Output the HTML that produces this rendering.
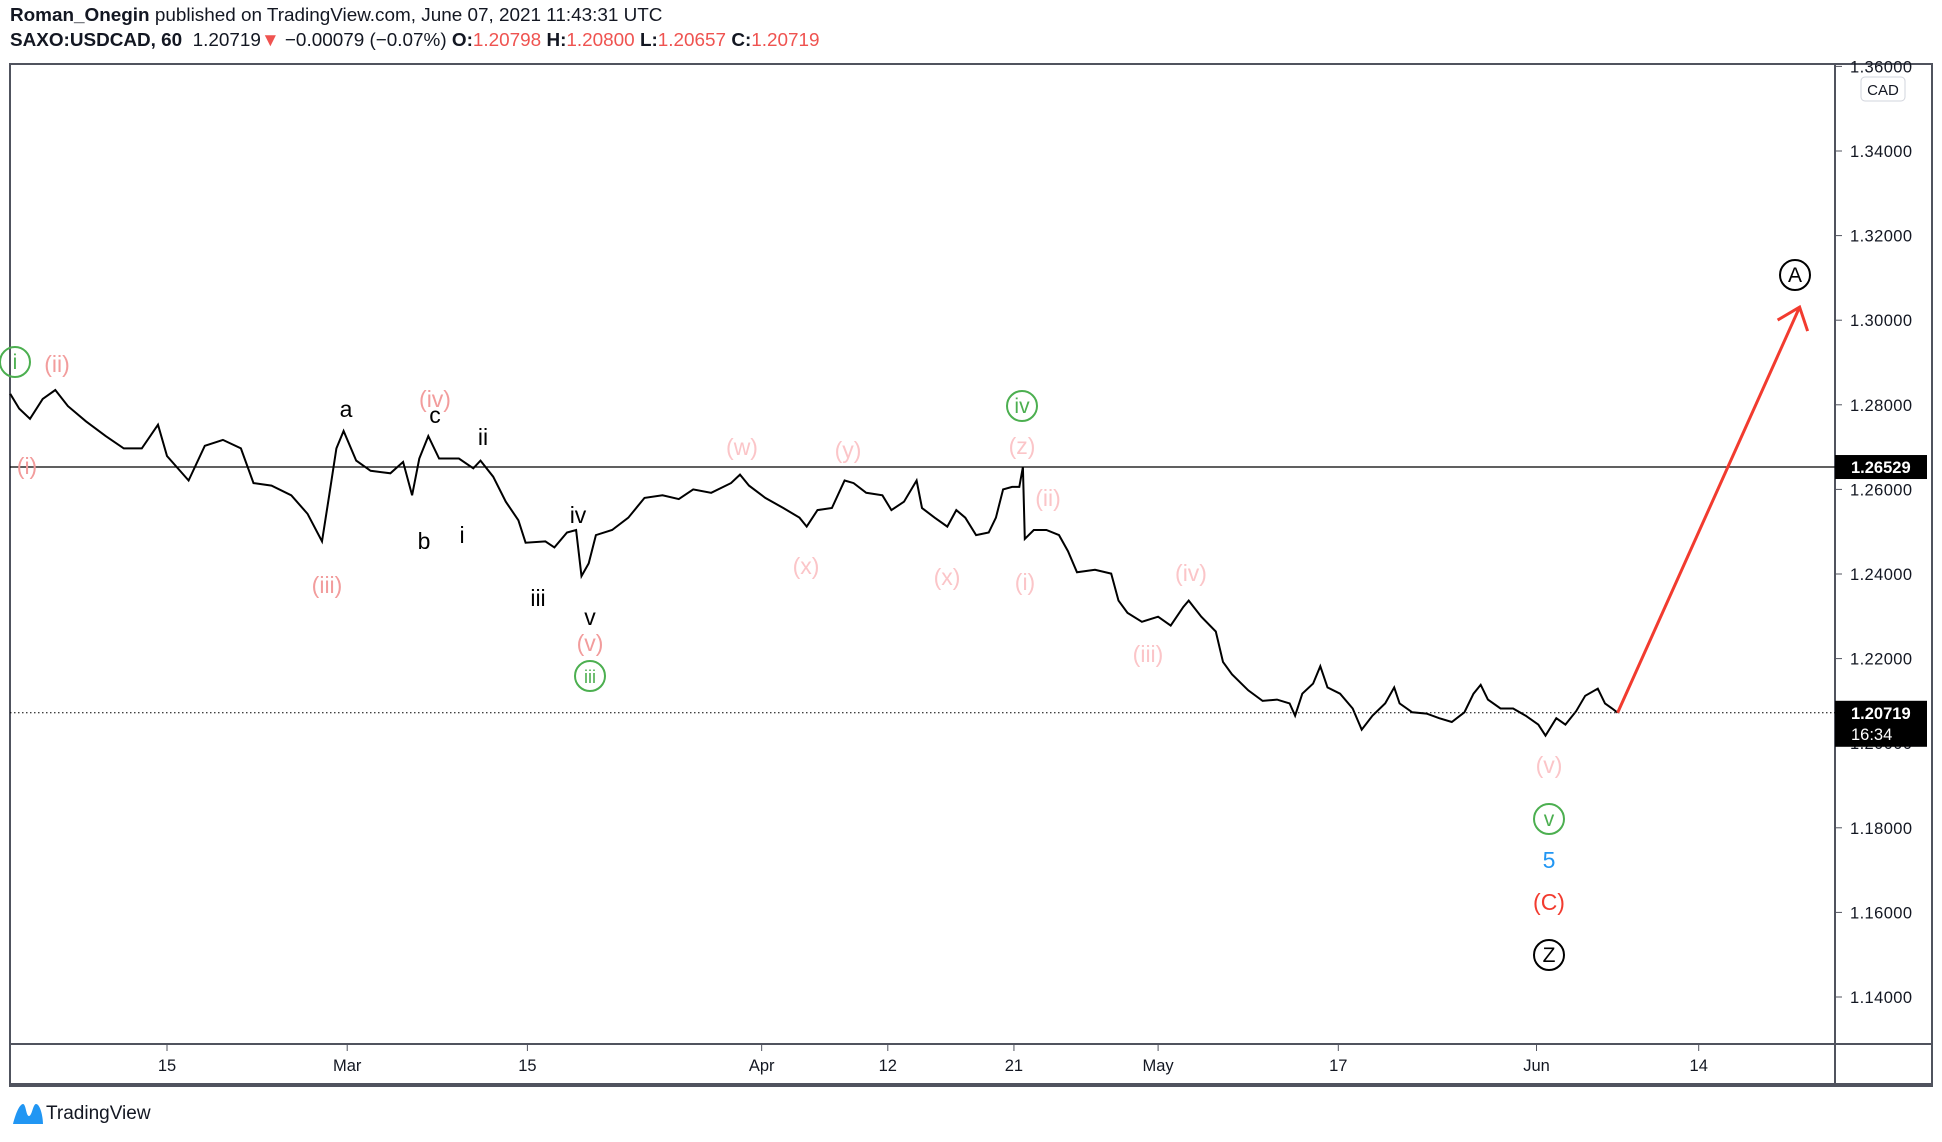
<!DOCTYPE html>
<html><head><meta charset="utf-8"><style>
html,body{margin:0;padding:0;background:#fff;}
body{width:1942px;height:1142px;overflow:hidden;position:relative;font-family:"Liberation Sans",sans-serif;}
.hdr{position:absolute;left:10px;font-size:18.9px;color:#131722;white-space:nowrap;}
.hdr b{font-weight:bold}
.red{color:#ef5350}
</style></head><body>
<div class="hdr" style="top:5px"><b>Roman_Onegin</b> published on TradingView.com, June 07, 2021 11:43:31 UTC</div>
<div class="hdr" style="top:30px"><b>SAXO:USDCAD, 60</b>&nbsp; 1.20719<span class="red">▼</span> −0.00079 (−0.07%) <b>O:</b><span class="red">1.20798</span> <b>H:</b><span class="red">1.20800</span> <b>L:</b><span class="red">1.20657</span> <b>C:</b><span class="red">1.20719</span></div>
<svg id="chart" width="1942" height="1142" style="position:absolute;left:0;top:0" font-family="Liberation Sans, sans-serif">
<g id="frame"></g><g id="grid"></g><g id="series"></g><g id="labels"></g><g id="axes"></g>
</svg>
<div style="position:absolute;left:12px;top:1101px;height:26px;display:flex;align-items:center;font-size:19px;color:#131722">
<svg width="32" height="24" viewBox="0 0 32 24"><path d="M1 22 C4 10 8 2 11 2 C14 2 14 14 17 14 C20 14 21 2 24 2 C28 2 31 14 31 22 Z" fill="#2196f3"/></svg><span style="margin-left:2px">TradingView</span></div>
<script>
// ---- data ----
const days = [-8.7,-8.2,-7.6,-6.9,-6.2,-5.5,-4.5,-3.4,-2.4,-1.4,-0.5,0,1.2,2.1,3.1,4.1,4.8,5.8,6.9,7.8,8.6,9.0,9.4,9.8,10.5,11.3,12.4,13.1,13.6,14.0,14.5,15.1,16.2,17.0,17.4,18.1,18.8,19.5,19.9,21.0,21.5,22.2,22.7,23.0,23.4,23.8,24.7,25.6,26.5,27.5,28.4,29.2,30.2,31.3,31.8,32.3,33.2,34.2,35.1,35.5,36.1,36.9,37.6,38.1,38.8,39.7,40.2,40.9,41.6,41.9,42.6,43.3,43.8,44.3,44.9,45.6,46.0,46.4,46.9,47.3,47.5,47.6,48.1,48.8,49.5,50.0,50.5,51.5,52.4,52.8,53.3,54.1,55.0,55.7,56.4,56.7,57.4,58.2,58.6,59.1,60.0,60.8,61.6,62.3,62.6,63.0,63.6,64.0,64.4,65.1,65.8,66.3,66.9,67.6,68.1,68.4,69.1,69.9,70.6,71.3,72.0,72.5,72.9,73.3,74.0,74.7,75.4,76.1,76.5,77.1,77.6,78.2,78.7,79.4,79.8,80.2,80.5];
const closes = [1.2826,1.2791,1.2767,1.2814,1.2835,1.2797,1.2761,1.2726,1.2697,1.2697,1.2753,1.2679,1.2621,1.2703,1.2717,1.2697,1.2615,1.2609,1.2586,1.2542,1.2477,1.2586,1.2697,1.2738,1.2668,1.2644,1.2638,1.2665,1.2586,1.2673,1.2726,1.2673,1.2673,1.2650,1.2668,1.2630,1.2571,1.2527,1.2474,1.2477,1.2463,1.2498,1.2504,1.2395,1.2425,1.2492,1.2504,1.2533,1.2580,1.2586,1.2577,1.2600,1.2592,1.2615,1.2635,1.2609,1.2580,1.2556,1.2533,1.2512,1.2551,1.2556,1.2621,1.2615,1.2592,1.2586,1.2551,1.2571,1.2621,1.2556,1.2533,1.2512,1.2551,1.2533,1.2492,1.2498,1.2533,1.2600,1.2606,1.2606,1.2653,1.2483,1.2504,1.2504,1.2492,1.2454,1.2404,1.2410,1.2401,1.2337,1.2308,1.2287,1.2299,1.2278,1.2322,1.2337,1.2299,1.2264,1.2192,1.2163,1.2125,1.2100,1.2103,1.2094,1.2065,1.2117,1.2141,1.2182,1.2132,1.2117,1.2082,1.2032,1.2065,1.2094,1.2132,1.2094,1.2073,1.2070,1.2059,1.2050,1.2073,1.2117,1.2138,1.2103,1.2082,1.2082,1.2065,1.2044,1.2018,1.2059,1.2044,1.2076,1.2112,1.2129,1.2094,1.2082,1.2072];
const priceTicks = [1.36,1.34,1.32,1.30,1.28,1.26,1.24,1.22,1.20,1.18,1.16,1.14];
const timeLabels = ["15","Mar","15","Apr","12","21","May","17","Jun","14"];
const timeDays = [0,10,20,33,40,47,55,65,76,85];
const hline = 1.26529;
const lastPrice = 1.20719;
const projection = [[80.5,1.2072],[90.6,1.3031]];
// ---- scales ----
const X = d => 167 + d*18.02;
const Y = p => 151 + (1.34 - p)/0.02*84.6;
const NS="http://www.w3.org/2000/svg";
function mk(tag, attrs, parent, txt){const e=document.createElementNS(NS,tag);for(const k in attrs)e.setAttribute(k,attrs[k]);if(txt!==undefined)e.textContent=txt;document.getElementById(parent).appendChild(e);return e;}
let e;
e=mk('rect',{x:10,y:64,width:1922,height:1022,fill:'none',stroke:'#50535e','stroke-width':2},'frame');


e=mk('line',{x1:10,y1:1085,x2:1932,y2:1085,stroke:'#50535e','stroke-width':4},'frame');


e=mk('line',{x1:10,y1:1044,x2:1932,y2:1044,stroke:'#50535e','stroke-width':2},'frame');


e=mk('line',{x1:1835,y1:64,x2:1835,y2:1086,stroke:'#50535e','stroke-width':2},'frame');


priceTicks.forEach(p=>{const y=Y(p); if(y<60) return;
 e=mk('line',{x1:1835,y1:y,x2:1842,y2:y,stroke:'#50535e'},'axes');
 
 
 e=mk('text',{x:1850,y:y+6,'font-size':16.5,'letter-spacing':0.4,fill:'#131722'},'axes',p.toFixed(5));
 
 
});
timeLabels.forEach((t,i)=>{const x=X(timeDays[i]);
 e=mk('line',{x1:x,y1:1044,x2:x,y2:1051,stroke:'#50535e'},'axes');
 
 
 e=mk('text',{x:x,y:1071,'font-size':16.5,fill:'#131722','text-anchor':'middle'},'axes',t);
 
 
});
e=mk('rect',{x:1861,y:77,width:44,height:24,rx:4,fill:'#fff',stroke:'#d1d4dc'},'axes');


mk('text',{x:1883,y:95,'font-size':15,fill:'#131722','text-anchor':'middle'},'axes','CAD');
e=mk('line',{x1:10,y1:Y(hline),x2:1835,y2:Y(hline),stroke:'#000','stroke-width':1.3},'grid');


e=mk('line',{x1:10,y1:Y(lastPrice),x2:1835,y2:Y(lastPrice),stroke:'#000','stroke-width':1,'stroke-dasharray':'1.5,2.5'},'grid');


e=mk('polyline',{points:days.map((d,i)=>X(d).toFixed(1)+','+Y(closes[i]).toFixed(1)).join(' '),fill:'none',stroke:'#000','stroke-width':2,'stroke-linejoin':'miter'},'series');


const ax1=X(projection[0][0]),ay1=Y(projection[0][1]),ax2=X(projection[1][0]),ay2=Y(projection[1][1]);
e=mk('line',{x1:ax1,y1:ay1,x2:ax2,y2:ay2,stroke:'#f23b2f','stroke-width':3},'series');


e=mk('polyline',{points:`${ax2-22},${ay2+13} ${ax2},${ay2} ${ax2+8},${ay2+24}`,fill:'none',stroke:'#f23b2f','stroke-width':3},'series');


e=mk('rect',{x:1835,y:Y(hline)-12,width:92,height:24,fill:'#000'},'axes');


mk('text',{x:1851,y:Y(hline)+6,'font-size':16.5,'font-weight':'bold',fill:'#fff'},'axes',hline.toFixed(5));
e=mk('rect',{x:1835,y:Y(lastPrice)-12,width:92,height:46,fill:'#000'},'axes');


mk('text',{x:1851,y:Y(lastPrice)+6,'font-size':16.5,'font-weight':'bold',fill:'#fff'},'axes',lastPrice.toFixed(5));
mk('text',{x:1851,y:Y(lastPrice)+27,'font-size':16.5,fill:'#fff'},'axes','16:34');
const waveLabels=[
 ['(ii)',57,364,'#f29c9c','ii-label'],['(i)',27,466,'#f29c9c','i-label'],['a',346,409,'#000','a-label'],
 ['(iv)',435,399,'#f29c9c','iv-label'],['c',435,415,'#000','c-label'],['ii',483,437,'#000','minor-ii-label'],
 ['b',424,541,'#000','b-label'],['i',462,535,'#000','minor-i-label'],['(iii)',327,585,'#f29c9c','iii-label'],
 ['iv',578,515,'#000','minor-iv-label'],['iii',538,598,'#000','minor-iii-label'],['v',590,617,'#000','minor-v-label'],
 ['(v)',590,643,'#f29c9c','v-label'],['(w)',742,447,'#fbc5c8','w-label'],['(y)',848,450,'#fbc5c8','y-label'],
 ['(x)',806,566,'#fbc5c8','x-label-1'],['(x)',947,577,'#fbc5c8','x-label-2'],['(z)',1022,446,'#fbc5c8','z-label'],
 ['(ii)',1048,498,'#fbc5c8','ii-label-2'],['(i)',1025,582,'#fbc5c8','i-label-2'],['(iv)',1191,573,'#fbc5c8','iv-label-2'],
 ['(iii)',1148,654,'#fbc5c8','iii-label-2'],['(v)',1549,765,'#fbc5c8','v-label-2'],['5',1549,860,'#2196f3','wave-5-label'],
 ['(C)',1549,902,'#f23b2f','wave-c-label']];
waveLabels.forEach(l=>{
 e=mk('text',{x:l[1],y:l[2]+8,'font-size':23,fill:l[3],'text-anchor':'middle'},'labels',l[0]);
 
 
});
const circled=[['i',15,362,'#4caf50','circled-i'],['iii',590,676,'#4caf50','circled-iii'],['iv',1022,406,'#4caf50','circled-iv'],
 ['v',1549,819,'#4caf50','circled-v'],['Z',1549,955,'#000','circled-z'],['A',1795,275,'#000','circled-a']];
circled.forEach(l=>{
 e=mk('circle',{cx:l[1],cy:l[2],r:15,fill:'none',stroke:l[3],'stroke-width':2},'labels');
 
 
 e=mk('text',{x:l[1],y:l[2]+7,'font-size':l[0].length>2?18:21,fill:l[3],'text-anchor':'middle'},'labels',l[0]);
 
 
});
</script>
</body></html>
